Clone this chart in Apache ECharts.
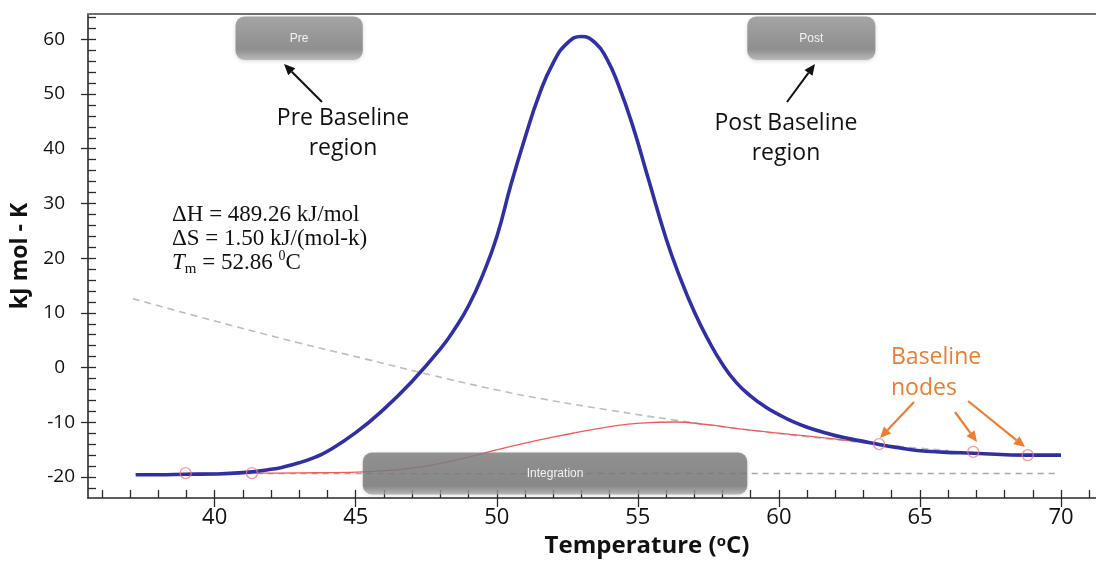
<!DOCTYPE html>
<html>
<head>
<meta charset="utf-8">
<script src="https://cdn.jsdelivr.net/npm/echarts@6/dist/echarts.min.js"></script>
<style>
html,body{margin:0;padding:0;background:#fff;}
#chart{width:1096px;height:565px;}
</style>
</head>
<body>
<div id="chart"></div>
<script>
// ---------- data ----------
const thermogram = [
  [37.2,-19.6],[38,-19.6],[39,-19.5],[40,-19.45],[41,-19.2],[42,-18.6],[42.5,-18.1],
  [43,-17.4],[43.5,-16.5],[44,-15.3],[45,-11.9],[46,-7.6],[47,-2.5],[48,3.4],[48.5,7.0],
  [49,11.3],[49.5,16.9],[50,23.9],[50.5,33.4],[51.0,42.0],[51.5,49.8],[52.0,55.7],
  [52.5,59.3],[53.0,60.5],[53.5,59.3],[53.9,56.4],[54.3,51.8],[54.8,44.5],[55.4,34.0],
  [56.0,23.6],[56.5,16.4],[57.0,10.2],[57.5,5.0],[58.0,0.6],[58.5,-2.8],[59.0,-5.2],
  [59.5,-7.1],[60.0,-8.6],[60.5,-9.9],[61.0,-10.9],[61.7,-12.0],[62.3,-12.8],[62.9,-13.4],
  [63.6,-14.1],[64.3,-14.7],[64.9,-15.15],[65.8,-15.45],[66.9,-15.65],[68.8,-16.0],[70.0,-16.0]
];
const integrationBaseline = [
  [39.0,-19.35],[41.3,-19.3],[43.0,-19.25],[44.8,-19.15],[46.6,-18.6],[47.5,-18.0],
  [48.3,-17.2],[49.2,-16.1],[50.1,-14.9],[51.0,-13.8],[51.9,-12.8],[52.8,-11.9],
  [53.9,-10.9],[55.1,-10.15],[56.3,-9.95],[57.4,-10.4],[58.6,-11.2],[60.4,-12.2],
  [61.7,-12.9],[62.9,-13.6],[63.55,-14.1]
];
const postBaselineFit = [
  [37.1,12.6],[39.5,9.2],[43.0,4.5],[45.4,1.5],[47.7,-1.4],[50.1,-4.2],[51.7,-5.8],
  [53.9,-7.7],[56.3,-9.6],[58.6,-11.2],[60.4,-12.3],[62.9,-13.7],[63.6,-14.1],
  [65.0,-14.75],[66.0,-15.15]
];
const preBaselineFit = [[37.2,-19.4],[69.8,-19.35]];
const baselineNodes = [[38.97,-19.3],[41.32,-19.3],[63.55,-14.0],[66.89,-15.4],[68.82,-16.0]];

const preRegion = [40.74, 45.25];
const postRegion = [58.88, 63.42];
const integrationRegion = [45.25, 58.88];
const regionLabels = ['Pre', 'Post', 'Integration'];

const xRange = [35.51, 71.24];
const yRange = [-23.84, 64.62];
const xLabelTicks = [40,45,50,55,60,65,70];
const xMinorTicks = [36,37,38,39,40,41,42,43,44,45,46,47,48,49,50,51,52,53,54,55,56,57,58,59,60,61,62,63,64,65,66,67,68,69,70,71];
const yLabelTicks = [-20,-10,0,10,20,30,40,50,60];
const yMinorTicks = [-22,-20,-18,-16,-14,-12,-10,-8,-6,-4,-2,0,2,4,6,8,10,12,14,16,18,20,22,24,26,28,30,32,34,36,38,40,42,44,46,48,50,52,54,56,58,60,62,64];

// ---------- chart ----------
const FONT = '"Open Sans", sans-serif';
const AX = '#2a2a2a';
const chart = echarts.init(document.getElementById('chart'));

function boxRender(kind) {
  return function (params, api) {
    const cs = params.coordSys;
    const x0 = api.coord([api.value(0), 0])[0];
    const x1 = api.coord([api.value(1), 0])[0];
    let y, h, fill;
    if (kind === 'top') {
      y = cs.y + 2.5; h = 43.5;
      fill = new echarts.graphic.LinearGradient(0,0,0,1,[
        {offset:0,color:'#a4a4a4'},{offset:0.75,color:'#8f8f8f'},{offset:1,color:'#b9b9b9'}]);
    } else {
      y = cs.y + cs.height - 45.5; h = 42;
      fill = new echarts.graphic.LinearGradient(0,0,0,1,[
        {offset:0,color:'rgba(130,130,130,0.85)'},{offset:0.8,color:'rgba(118,118,118,0.83)'},{offset:1,color:'rgba(170,170,170,0.8)'}]);
    }
    const label = regionLabels[params.dataIndex + (kind === 'top' ? 0 : 2)];
    return {
      type: 'group',
      children: [
        {type:'rect', shape:{x:x0, y:y, width:x1-x0, height:h, r:9},
         style:{fill:fill, shadowBlur:4, shadowColor:'rgba(0,0,0,0.15)', shadowOffsetY:1}},
        {type:'text', style:{text:label, x:(x0+x1)/2, y:y+h/2, align:'center', verticalAlign:'middle',
          fill:'#f2f2f2', font:'12px "Liberation Sans", Arial, sans-serif'}}
      ]
    };
  };
}

function arrow(x1,y1,x2,y2,color,w) {
  const a = Math.atan2(y2-y1, x2-x1), L = 11, W = 5;
  const bx = x2 - L*Math.cos(a), by = y2 - L*Math.sin(a);
  const px = -Math.sin(a)*W, py = Math.cos(a)*W;
  return [
    {type:'line', shape:{x1:x1,y1:y1,x2:bx,y2:by}, style:{stroke:color, lineWidth:w}, z:50},
    {type:'polygon', shape:{points:[[x2,y2],[bx+px,by+py],[bx-px,by-py]]}, style:{fill:color}, z:50}
  ];
}

const serifTxt = {fontFamily:'"Liberation Serif", "Times New Roman", serif', fontSize:23, fill:'#111'};
const ORANGE = '#ED7D31';

const option = {
  animation: false,
  backgroundColor: '#fff',
  grid: {left: 88, right: 0, top: 14, bottom: 67, outerBoundsMode: 'none', containLabel: false},
  xAxis: [
    {type:'value', position:'bottom', min:xRange[0], max:xRange[1],
     axisLine:{show:true, onZero:false, lineStyle:{color:AX, width:1.6}},
     axisTick:{show:true, inside:true, length:8, customValues:xMinorTicks, lineStyle:{color:AX, width:1.3}},
     axisLabel:{show:true, customValues:xLabelTicks, margin:9, fontSize:22, color:'#111', fontFamily:FONT},
     splitLine:{show:false},
     name:'Temperature ({s|o}C)', nameLocation:'middle', nameGap:36,
     nameTextStyle:{fontSize:24, fontWeight:'bold', color:'#111', fontFamily:FONT, padding:[0,0,0,110],
       rich:{s:{fontSize:15, fontWeight:'bold', fontFamily:FONT, color:'#111', verticalAlign:'top', padding:[0,0,8,0]}}}
    },
    {type:'value', position:'bottom', min:xRange[0], max:xRange[1],
     axisLine:{show:false, onZero:false},
     axisTick:{show:true, inside:false, length:9, customValues:xLabelTicks, lineStyle:{color:AX, width:1.3}},
     axisLabel:{show:false}, splitLine:{show:false}},
    {type:'value', position:'top', min:xRange[0], max:xRange[1],
     axisLine:{show:true, onZero:false, lineStyle:{color:'#707070', width:2}},
     axisTick:{show:false}, axisLabel:{show:false}, splitLine:{show:false}}
  ],
  yAxis: [
    {type:'value', position:'left', min:yRange[0], max:yRange[1],
     axisLine:{show:true, onZero:false, lineStyle:{color:AX, width:1.6}},
     axisTick:{show:true, inside:true, length:8, customValues:yMinorTicks, lineStyle:{color:AX, width:1.3}},
     axisLabel:{show:true, customValues:yLabelTicks, margin:13, align:'right',
       formatter: v => v < 0 ? '{n|' + v + '}' : '{n|' + v + '}{sp|}',
       rich:{n:{fontSize:19, color:'#111', fontFamily:FONT}, sp:{width:10}}},
     splitLine:{show:false},
     name:'kJ mol - K', nameLocation:'middle', nameGap:52, nameRotate:90,
     nameTextStyle:{fontSize:23, fontWeight:'bold', color:'#111', fontFamily:FONT}
    },
    {type:'value', position:'left', min:yRange[0], max:yRange[1],
     axisLine:{show:false, onZero:false},
     axisTick:{show:true, inside:false, length:7, customValues:yLabelTicks, lineStyle:{color:AX, width:1.3}},
     axisLabel:{show:false}, splitLine:{show:false}}
  ],
  series: [
    {type:'line', name:'pre fit', data:preBaselineFit, showSymbol:false, z:2,
     lineStyle:{color:'#a8a8a8', width:1.4, type:[6,5]}},
    {type:'line', name:'post fit', data:postBaselineFit, showSymbol:false, smooth:0.5, z:2,
     lineStyle:{color:'#bdbdbd', width:1.6, type:[7,5]}},
    {type:'line', name:'baseline', data:integrationBaseline, showSymbol:false, smooth:0.5, z:3,
     lineStyle:{color:'#f05a5a', width:1.3}},
    {type:'line', name:'Cp', data:thermogram, showSymbol:false, smooth:0.5, z:4,
     lineStyle:{color:'#3030a2', width:3.6}},
    {type:'scatter', name:'nodes', data:baselineNodes, symbol:'circle', symbolSize:11, z:5,
     itemStyle:{color:'rgba(255,255,255,0)', borderColor:'#f07c86', borderWidth:1.3}},
    {type:'custom', name:'top boxes', data:[preRegion, postRegion], renderItem:boxRender('top'), z:6,
     encode:{x:[0,1]}, clip:false},
    {type:'custom', name:'integration box', data:[integrationRegion], renderItem:boxRender('bottom'), z:6,
     encode:{x:[0,1]}, clip:false}
  ],
  graphic: [
    {type:'text', x:343, y:118, z:50, style:{text:'Pre Baseline', align:'center', verticalAlign:'middle', fontFamily:FONT, fontSize:23, fill:'#111'}},
    {type:'text', x:343, y:148, z:50, style:{text:'region', align:'center', verticalAlign:'middle', fontFamily:FONT, fontSize:23, fill:'#111'}},
    {type:'text', x:786, y:123, z:50, style:{text:'Post Baseline', align:'center', verticalAlign:'middle', fontFamily:FONT, fontSize:23, fill:'#111'}},
    {type:'text', x:786, y:153, z:50, style:{text:'region', align:'center', verticalAlign:'middle', fontFamily:FONT, fontSize:23, fill:'#111'}},
    {type:'text', x:891, y:357, z:50, style:{text:'Baseline', align:'left', verticalAlign:'middle', fontFamily:FONT, fontSize:23, fill:ORANGE}},
    {type:'text', x:891, y:388, z:50, style:{text:'nodes', align:'left', verticalAlign:'middle', fontFamily:FONT, fontSize:23, fill:ORANGE}},
    {type:'text', x:172, y:215, z:50, style:Object.assign({text:'\u0394H = 489.26 kJ/mol', verticalAlign:'middle'}, serifTxt)},
    {type:'text', x:172, y:239, z:50, style:Object.assign({text:'\u0394S = 1.50 kJ/(mol-k)', verticalAlign:'middle'}, serifTxt)},
    {type:'text', x:172, y:263, z:50, style:Object.assign({
      text:'{i|T}{b|m}{n| = 52.86 }{p|0}{n|C}', verticalAlign:'middle',
      rich:{
        i:{fontFamily:'"Liberation Serif", serif', fontStyle:'italic', fontSize:23, fill:'#111', lineHeight:28},
        b:{fontFamily:'"Liberation Serif", serif', fontSize:15, fill:'#111', lineHeight:28, verticalAlign:'bottom', padding:[10,0,0,0]},
        n:{fontFamily:'"Liberation Serif", serif', fontSize:23, fill:'#111', lineHeight:28},
        p:{fontFamily:'"Liberation Serif", serif', fontSize:14, fill:'#111', lineHeight:28, verticalAlign:'top', padding:[0,0,10,0]}
      }}, serifTxt)}
  ].concat(
    arrow(322,102,284,64,'#111',2),
    arrow(787,102,815,64,'#111',2),
    arrow(914,402,880,438,ORANGE,2.2),
    arrow(955,412,977,442,ORANGE,2.2),
    arrow(968,401,1025,447,ORANGE,2.2)
  )
};
chart.setOption(option);
</script>
</body>
</html>
